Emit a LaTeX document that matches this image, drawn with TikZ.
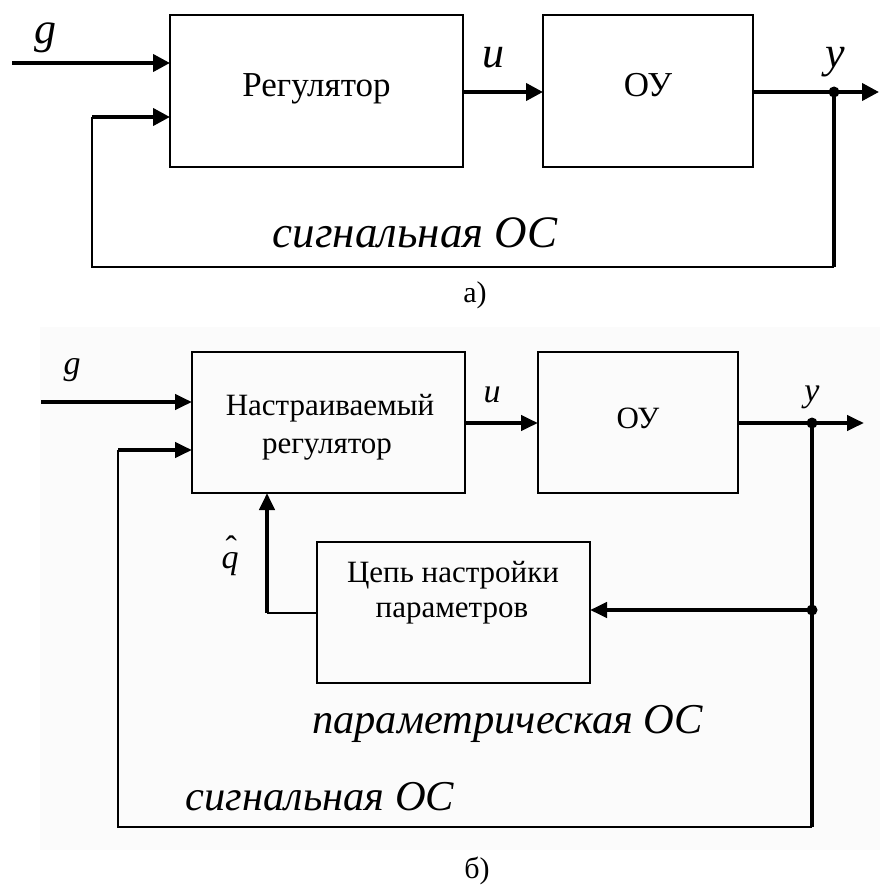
\documentclass[tikz,border=0pt]{standalone}
\usepackage{fontspec}
\setmainfont{Liberation Serif}
\usetikzlibrary{arrows.meta}
\begin{document}
\begin{tikzpicture}[x=1pt,y=-1pt,
  blk/.style={draw, line width=2pt, inner sep=0pt, outer sep=0pt},
  boxtxtA/.style={font=\fontsize{35}{40}\selectfont, text height=23pt, text depth=11pt},
  boxtxtB/.style={font=\fontsize{31}{36}\selectfont, inner sep=0pt, anchor=base},
  thk/.style={line width=4pt},
  thn/.style={line width=2pt},
  arr/.style={-{Triangle[length=17pt,width=17pt]}},
  arrB/.style={-{Triangle[length=17pt,width=15pt]}},
  dotc/.style={circle, fill, inner sep=0pt, minimum size=11pt},
  varA/.style={font=\fontsize{44}{48}\selectfont\itshape, inner sep=0pt, anchor=base},
  varB/.style={font=\fontsize{34}{38}\selectfont\itshape, inner sep=0pt, anchor=base},
  osc/.style={font=\fontsize{45}{50}\selectfont\itshape, inner sep=0pt, anchor=base},
  oscB/.style={font=\fontsize{42.5}{48}\selectfont\itshape, inner sep=0pt, anchor=base},
  figcap/.style={font=\fontsize{30}{34}\selectfont, inner sep=0pt, anchor=base},
]
\useasboundingbox (0,0) rectangle (880,888);
\fill[black!1.5] (40,327) rectangle (880,850);

% ---------------- a) ----------------
\node[blk, boxtxtA, minimum width=293pt, minimum height=152pt] (reg) at (316.5,91) {Регулятор};
\node[blk, boxtxtA, minimum width=210pt, minimum height=152pt] (ou) at (648,91) {ОУ};

\coordinate (gA) at (12,63);
\coordinate (yA) at (879,92);
\node[dotc] (dA) at (834,92) {};
\coordinate (brA) at (834,267);
\coordinate (blA) at (92,267);
\coordinate (tlA) at (92,117);

\draw[thk,arr] (gA) -- (gA -| reg.west);
\draw[thk,arr] (reg.east |- dA) -- (ou.west |- dA);
\draw[thk,arr] (ou.east |- dA) -- (yA);
\draw[thk] (dA.center) -- (brA);
\draw[thn] (brA) -- (blA) -- (tlA);
\draw[thk,arr] (tlA) -- (tlA -| reg.west);

\node[varA] (lgA) at (45,44) {g};
\node[varA] (luA) at (493,68) {u};
\node[varA] (lyA) at (835,68) {y};
\node[osc] (oscA) at (415,247) {сигнальная ОС};
\node[figcap] (capA) at (475,302) {а)};

% ---------------- b) ----------------
\node[blk, minimum width=273pt, minimum height=141pt] (reg2) at (328.5,422.5) {};
\node[boxtxtB] (reg2a) at (330,415) {Настраиваемый};
\node[boxtxtB] (reg2b) at (327,453) {регулятор};
\node[blk, boxtxtA, font=\fontsize{31}{36}\selectfont, text height=21pt, text depth=10pt, minimum width=200pt, minimum height=141pt] (ou2) at (638,422.5) {ОУ};
\node[blk, minimum width=273pt, minimum height=141pt] (par) at (453.5,612.5) {};
\node[boxtxtB] (para) at (453,582) {Цепь настройки};
\node[boxtxtB] (parb) at (452,617) {параметров};

\coordinate (gB) at (41,402);
\coordinate (yB) at (864,423);
\node[dotc] (dB) at (812,423) {};
\node[dotc] (dC) at (812,610) {};
\coordinate (brB) at (812,827);
\coordinate (blB) at (118,827);
\coordinate (tlB) at (118,450);
\coordinate (qB) at (267,613);

\draw[thk,arrB] (gB) -- (gB -| reg2.west);
\draw[thk,arrB] (reg2.east |- dB) -- (ou2.west |- dB);
\draw[thk,arrB] (ou2.east |- dB) -- (yB);
\draw[thk] (dB.center) -- (brB);
\draw[thn] (brB) -- (blB) -- (tlB);
\draw[thk,arrB] (tlB) -- (tlB -| reg2.west);
\draw[thk,arrB] (dC.center) -- (dC -| par.east);
\draw[thn] (par.west |- qB) -- (qB);
\draw[thk,arrB] (qB) -- (qB |- reg2.south);

\node[varB] (lgB) at (72,374) {g};
\node[varB] (luB) at (492,402) {u};
\node[varB] (lyB) at (812,401) {y};
\node[varB] (lqB) at (230,568) {\makebox[0pt][l]{\hspace{4pt}\raisebox{9pt}{\upshape ˆ}}q};
\node[oscB] (oscP) at (507.5,733) {параметрическая ОС};
\node[oscB] (oscS) at (320,810) {сигнальная ОС};
\node[figcap] (capB) at (477,878) {б)};
\end{tikzpicture}
\end{document}
